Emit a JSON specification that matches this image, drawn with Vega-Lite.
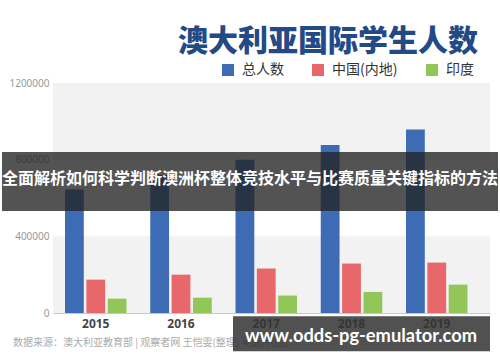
{
  "$schema": "https://vega.github.io/schema/vega-lite/v6.json",
  "width": 437,
  "height": 230,
  "autosize": {"type": "none"},
  "padding": {"left": 53, "top": 83, "right": 10, "bottom": 49},
  "background": "white",
  "config": {"view": {"stroke": null}, "font": "Noto Sans CJK SC"},
  "title": {
    "text": "澳大利亚国际学生人数",
    "anchor": "end",
    "frame": "group",
    "fontSize": 30,
    "fontWeight": 900,
    "color": "#234a86",
    "font": "Noto Sans CJK SC",
    "offset": 6,
    "dx": -12
  },
  "datasets": {
    "students": [
      {"year": "2015", "series": "总人数", "value": 645000},
      {"year": "2015", "series": "中国(内地)", "value": 174000},
      {"year": "2015", "series": "印度", "value": 75000},
      {"year": "2016", "series": "总人数", "value": 720000},
      {"year": "2016", "series": "中国(内地)", "value": 200000},
      {"year": "2016", "series": "印度", "value": 80000},
      {"year": "2017", "series": "总人数", "value": 799000},
      {"year": "2017", "series": "中国(内地)", "value": 232000},
      {"year": "2017", "series": "印度", "value": 91000},
      {"year": "2018", "series": "总人数", "value": 876000},
      {"year": "2018", "series": "中国(内地)", "value": 258000},
      {"year": "2018", "series": "印度", "value": 110000},
      {"year": "2019", "series": "总人数", "value": 957000},
      {"year": "2019", "series": "中国(内地)", "value": 263000},
      {"year": "2019", "series": "印度", "value": 148000}
    ]
  },
  "layer": [
    {
      "data": {"values": [{}]},
      "mark": {"type": "rect", "color": "#f2f2f2"},
      "encoding": {
        "x": {"datum": 0, "type": "quantitative", "scale": {"domain": [0, 1], "nice": false, "zero": false}, "axis": null},
        "x2": {"datum": 1},
        "y": {"datum": 0, "type": "quantitative"},
        "y2": {"datum": 400000}
      }
    },
    {
      "data": {"values": [{}]},
      "mark": {"type": "rect", "color": "#f2f2f2"},
      "encoding": {
        "x": {"datum": 0, "type": "quantitative", "scale": {"domain": [0, 1], "nice": false, "zero": false}, "axis": null},
        "x2": {"datum": 1},
        "y": {"datum": 800000, "type": "quantitative"},
        "y2": {"datum": 1200000}
      }
    },
    {
      "data": {"name": "students"},
      "mark": {"type": "bar"},
      "encoding": {
        "x": {
          "field": "year",
          "type": "ordinal",
          "scale": {"paddingInner": 0.2786, "paddingOuter": 0.2023, "align": 0.348},
          "axis": {
            "title": null,
            "ticks": false,
            "domainColor": "#c8c8c8",
            "labelFont": "Noto Sans",
            "labelFontWeight": "bold",
            "labelFontSize": 12,
            "labelColor": "#444444",
            "labelPadding": 5,
            "labelAngle": 0
          }
        },
        "xOffset": {
          "field": "series",
          "type": "nominal",
          "sort": ["总人数", "中国(内地)", "印度"],
          "scale": {"paddingInner": 0.12, "paddingOuter": 0}
        },
        "y": {
          "field": "value",
          "type": "quantitative",
          "scale": {"domain": [0, 1200000], "nice": false},
          "axis": {
            "title": null,
            "values": [0, 400000, 800000, 1200000],
            "format": "d",
            "grid": false,
            "domain": false,
            "ticks": false,
            "labelFont": "Noto Sans",
            "labelColor": "#999999",
            "labelFontSize": 10,
            "labelPadding": 4
          }
        },
        "color": {
          "field": "series",
          "type": "nominal",
          "scale": {
            "domain": ["总人数", "中国(内地)", "印度"],
            "range": ["#3d6cb4", "#e8676a", "#93c658"]
          },
          "legend": {
            "orient": "none",
            "legendX": 168,
            "legendY": -20,
            "direction": "horizontal",
            "title": null,
            "symbolType": "square",
            "symbolSize": 144,
            "symbolStrokeWidth": 0,
            "labelFont": "Noto Sans CJK SC",
            "labelFontSize": 14,
            "labelColor": "#333333",
            "labelOffset": 7,
            "columnPadding": 27
          }
        }
      }
    },
    {
      "data": {"values": [{}]},
      "mark": {"type": "text", "text": "数据来源：澳大利亚教育部  |  观察者网 王恺雯(整理) 吴庭(制图)", "align": "left", "baseline": "middle", "fontSize": 10, "color": "#aaaaaa", "font": "Noto Sans CJK SC"},
      "encoding": {
        "x": {"datum": -0.0915, "type": "quantitative", "scale": {"domain": [0, 1], "nice": false, "zero": false}, "axis": null},
        "y": {"datum": -158100, "type": "quantitative"}
      }
    },
    {
      "data": {"values": [{}]},
      "mark": {"type": "rect", "color": "#222222", "opacity": 0.78},
      "encoding": {
        "x": {"datum": -0.1167, "type": "quantitative", "scale": {"domain": [0, 1], "nice": false, "zero": false}, "axis": null},
        "x2": {"datum": 1.0183},
        "y": {"datum": 840000, "type": "quantitative"},
        "y2": {"datum": 532200}
      }
    },
    {
      "data": {"values": [{}]},
      "mark": {"type": "text", "text": "全面解析如何科学判断澳洲杯整体竞技水平与比赛质量关键指标的方法", "align": "center", "baseline": "middle", "fontSize": 16, "fontWeight": "bold", "color": "#ffffff", "font": "Noto Sans CJK SC"},
      "encoding": {
        "x": {"datum": 0.4508, "type": "quantitative", "scale": {"domain": [0, 1], "nice": false, "zero": false}, "axis": null},
        "y": {"datum": 697600, "type": "quantitative"}
      }
    },
    {
      "data": {"values": [{}]},
      "mark": {"type": "rect", "color": "#333333", "opacity": 0.85},
      "encoding": {
        "x": {"datum": 0.4119, "type": "quantitative", "scale": {"domain": [0, 1], "nice": false, "zero": false}, "axis": null},
        "x2": {"datum": 1.0},
        "y": {"datum": -17000, "type": "quantitative"},
        "y2": {"datum": -200000}
      }
    },
    {
      "data": {"values": [{}]},
      "mark": {"type": "text", "text": "www.odds-pg-emulator.com", "align": "center", "baseline": "alphabetic", "fontSize": 18.3, "fontWeight": "bold", "color": "#ffffff", "font": "Lato"},
      "encoding": {
        "x": {"datum": 0.7048, "type": "quantitative", "scale": {"domain": [0, 1], "nice": false, "zero": false}, "axis": null},
        "y": {"datum": -153000, "type": "quantitative"}
      }
    }
  ],
  "resolve": {"scale": {"x": "independent"}}
}
